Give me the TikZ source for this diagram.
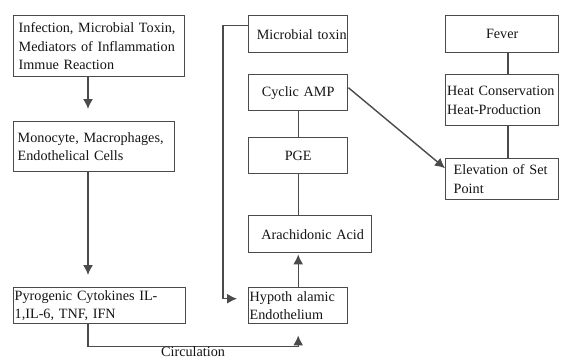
\documentclass[tikz,border=0pt]{standalone}
\usepackage{fontspec}
\setmainfont{Liberation Serif}
\usepackage{tikz}
\usetikzlibrary{arrows.meta,positioning,calc}
\definecolor{linegray}{RGB}{75,75,75}
\definecolor{textgray}{RGB}{20,20,20}
\newcommand{\boxfont}{\fontsize{14.2pt}{18.5pt}\selectfont\hyphenpenalty=10000\exhyphenpenalty=10000}
\tikzset{
block/.style = {draw=linegray, line width=1.4pt, rectangle, anchor=north west, inner ysep=0pt, text=textgray, font=\boxfont},
leftblock/.style = {block, align=left},
midblock/.style = {block, align=center},
link/.style = {draw=linegray, line width=1.4pt}
}

\begin{document}
\begin{tikzpicture}[x=1pt, y=-1pt, >={Latex[length=10pt,width=10pt]}]
                \useasboundingbox (0,0) rectangle (561,362);

                \coordinate (spine) at (88,0);
                \coordinate (rightspine) at (508,0);

                \node [leftblock, inner xsep=5pt, text width=161pt, minimum height=61pt] (infection) at (13,15) {Infection, Microbial Toxin,\\ Mediators of Inflammation\\ Immue Reaction};
                \node [leftblock, inner xsep=4pt, text width=153pt, minimum height=50pt] (monocyte) at (13,121) {Monocyte, Macrophages,\\ Endothelical Cells};
                \node [leftblock, inner xsep=1pt, text width=170pt, minimum height=36pt] (cytokines) at (13,287) {Pyrogenic Cytokines IL-\\ 1,IL-6, TNF, IFN};

                \node [midblock, inner xsep=1pt, text width=97pt, minimum height=37pt] (toxin) at (248,15) {\hfill Microbial toxin};
                \node [midblock, inner xsep=1pt, text width=97pt, minimum height=36pt] (camp) at (248,74) {Cyclic AMP};
                \node [midblock, inner xsep=1pt, text width=97pt, minimum height=36pt] (pge) at (248,137) {PGE};
                \node [midblock, inner xsep=1pt, text width=121pt, minimum height=37pt] (arachidonic) at (248,215) {\hspace*{5pt}Arachidonic Acid};
                \node [leftblock, inner xsep=1pt, text width=97pt, minimum height=36pt] (hypoth) at (248,287) {Hypoth alamic\\ Endothelium};

                \node [midblock, inner xsep=1pt, text width=111pt, minimum height=37pt] (fever) at (445,15) {Fever};
                \node [leftblock, inner xsep=1.5pt, text width=110pt, minimum height=51pt] (heat) at (445,74) {Heat Conservation\\ Heat-Production};
                \node [leftblock, inner xsep=8pt, text width=97pt, minimum height=41pt] (setpoint) at (445,158) {Elevation of Set\\ Point};

                \draw [link,->,shorten >=12pt] (infection.south -| spine) -- (monocyte.north -| spine);
                \draw [link,->,shorten >=12pt] (monocyte.south -| spine) -- (cytokines.north -| spine);
                \draw [link,->,shorten >=11pt] (cytokines.south -| spine) |- node [below, pos=0.75, text=textgray, font=\boxfont, inner sep=0pt] {Circulation} ($(hypoth.south)+(0,22)$) -- (hypoth.south);
                \draw [link,->,shorten >=11pt] ([yshift=9pt]toxin.west) -- ++(-25,0) |- ([yshift=7pt]hypoth.west);
                \draw [link] (camp.south) -- (pge.north);
                \draw [link] (pge.south) -- (pge.south |- arachidonic.north);
                \draw [link,->,shorten >=1pt] (hypoth.north) -- (hypoth.north |- arachidonic.south);
                \draw [link,->] ([yshift=5pt]camp.east) -- ([yshift=11pt]setpoint.west);
                \draw [link] (fever.south -| rightspine) -- (heat.north -| rightspine);
                \draw [link] (heat.south -| rightspine) -- (setpoint.north -| rightspine);
            \end{tikzpicture}
\end{document}
